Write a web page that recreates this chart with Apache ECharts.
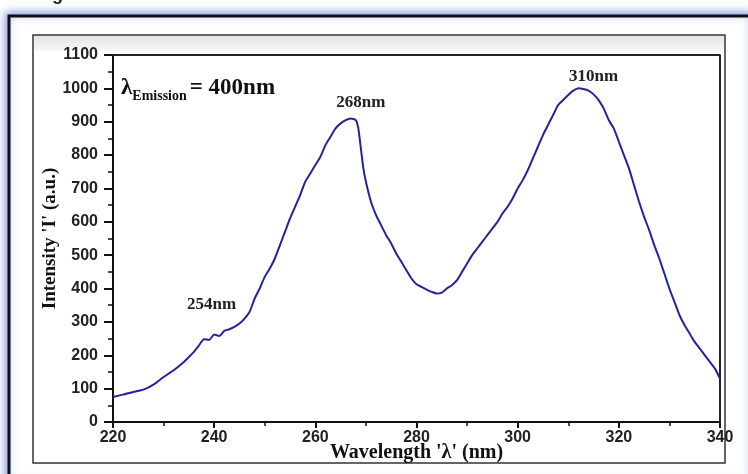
<!DOCTYPE html>
<html>
<head>
<meta charset="utf-8">
<script src="https://cdn.jsdelivr.net/npm/echarts@6/dist/echarts.min.js"></script>
<style>
  html, body { margin: 0; padding: 0; background: #fff; }
  #chart { width: 748px; height: 474px; }
</style>
</head>
<body>
<div id="chart"></div>
<script>
// excitation spectrum
var wavelength = [220, 222, 224, 226, 228, 230, 232, 234, 235, 236, 237, 238, 239, 240, 241, 242, 243, 244, 245, 246,
  247, 248, 249, 250, 251, 252, 253, 254, 255, 256, 257, 258, 259, 260, 261, 262, 263, 264, 265, 266, 267, 268,
  268.5, 269, 269.5, 270, 271, 272, 273, 274, 275, 276, 277, 278, 279, 280, 281, 282, 283, 284, 285, 286, 287,
  288, 289, 290, 291, 292, 293, 294, 295, 296, 297, 298, 299, 300, 301, 302, 303, 304, 305, 306, 307, 308, 309,
  310, 311, 312, 313, 314, 315, 316, 317, 318, 319, 320, 321, 322, 323, 324, 325, 326, 327, 328, 329, 330, 331,
  332, 333, 334, 335, 336, 337, 338, 339, 340];
var intensity = [75, 82, 90, 97, 112, 135, 155, 180, 195, 210, 230, 248, 246, 262, 258, 273, 278, 285, 295, 310,
  330, 370, 400, 435, 460, 490, 530, 570, 610, 645, 680, 720, 745, 770, 795, 830, 855, 880, 895, 905, 910, 905,
  880, 820, 760, 720, 660, 620, 590, 560, 535, 505, 480, 455, 430, 413, 405, 397, 390, 385, 388, 400, 410,
  425, 450, 475, 500, 520, 540, 560, 580, 600, 625, 645, 670, 700, 725, 755, 790, 825, 860, 890, 920, 950, 965,
  980, 993, 1000, 998, 993, 982, 965, 940, 905, 880, 840, 800, 760, 710, 660, 615, 575, 530, 490, 445, 400, 360,
  320, 290, 265, 240, 220, 200, 180, 160, 130];

// peak labels: [wavelength, intensity, text]
var peakX = [239.5, 269, 315];
var peakY = [300, 905, 985];
var peakText = ['254nm', '268nm', '310nm'];

var xTicks = [220, 240, 260, 280, 300, 320, 340];
var yTicks = [0, 100, 200, 300, 400, 500, 600, 700, 800, 900, 1000, 1100];

var lineData = [];
for (var i = 0; i < wavelength.length; i++) {
  lineData.push([wavelength[i], intensity[i]]);
}
var peakData = [];
for (var k = 0; k < peakX.length; k++) {
  peakData.push({ coord: [peakX[k], peakY[k]], value: peakText[k] });
}

var chart = echarts.init(document.getElementById('chart'));

var option = {
  backgroundColor: '#ffffff',
  animation: false,
  graphic: [
    // outer frame with bluish shadow
    { type: 'rect', shape: { x: 9, y: 16, width: 745, height: 468 },
      style: { fill: '#ffffff', stroke: '#111', lineWidth: 3, shadowBlur: 8, shadowColor: 'rgba(60,100,200,0.6)', shadowOffsetX: -2, shadowOffsetY: -2 }, z: -10 },
    // inner panel
    { type: 'rect', shape: { x: 33, y: 35, width: 692, height: 428 },
      style: { fill: '#ffffff', stroke: '#333', lineWidth: 1.5 }, z: -9 },
    { type: 'rect', shape: { x: 34, y: 36, width: 690, height: 15 },
      style: { fill: new echarts.graphic.LinearGradient(0, 0, 0, 1, [
        { offset: 0, color: '#e4e4e4' }, { offset: 1, color: '#f7f7f7' }]) }, z: -8 },
    // figure caption, clipped at top
    { type: 'text', left: 36, top: -14,
      style: { text: 'Fig. 3', font: 'bold 18px "Liberation Sans"', fill: '#222' } },
    // emission wavelength note
    { type: 'text', left: 121, top: 77,
      style: {
        text: '{l|λ}{s|Emission}{l|= 400nm}',
        rich: {
          l: { font: 'bold 23px "Liberation Serif"', fill: '#111' },
          s: { font: 'bold 14px "Liberation Serif"', fill: '#111', padding: [15, 3, 0, 0] }
        }
      } }
  ],
  grid: { left: 113, right: 28, top: 55, bottom: 52 },
  xAxis: {
    type: 'value', min: 220, max: 340, interval: 20,
    name: "Wavelength 'λ' (nm)", nameLocation: 'middle', nameGap: 21, nameMoveOverlap: false,
    nameTextStyle: { fontFamily: 'Liberation Serif', fontWeight: 'bold', fontSize: 20, color: '#111' },
    axisLine: { lineStyle: { color: '#111', width: 2 } },
    axisTick: { inside: false, length: 6, lineStyle: { color: '#111', width: 2 } },
    minorTick: { show: true, splitNumber: 2, length: 4, lineStyle: { color: '#111', width: 1.5 } },
    axisLabel: { margin: 8, fontFamily: 'Liberation Sans', fontWeight: 'bold', fontSize: 16, color: '#222',
      formatter: function (v) { return xTicks.indexOf(v) >= 0 ? String(v) : ''; } },
    splitLine: { show: false }
  },
  yAxis: {
    type: 'value', min: 0, max: 1100, interval: 100,
    name: "Intensity 'I' (a.u.)", nameLocation: 'middle', nameGap: 53, nameMoveOverlap: false,
    nameTextStyle: { fontFamily: 'Liberation Serif', fontWeight: 'bold', fontSize: 19, color: '#111' },
    axisLine: { lineStyle: { color: '#111', width: 2 } },
    axisTick: { inside: false, length: 9, lineStyle: { color: '#111', width: 2 } },
    minorTick: { show: true, splitNumber: 2, length: 5, lineStyle: { color: '#111', width: 1.5 } },
    axisLabel: { margin: 15, fontFamily: 'Liberation Sans', fontWeight: 'bold', fontSize: 16, color: '#222',
      formatter: function (v) { return yTicks.indexOf(v) >= 0 ? String(v) : ''; } },
    splitLine: { show: false }
  },
  series: [
    {
      // plot box: top and right border
      type: 'line', silent: true, symbol: 'none',
      data: [[220, 1100], [340, 1100], [340, 0]],
      lineStyle: { color: '#222', width: 2 }, z: 1
    },
    {
      type: 'line', symbol: 'none', smooth: 0.2,
      data: lineData,
      lineStyle: { color: '#24249a', width: 2 },
      markPoint: {
        symbol: 'rect', symbolSize: 1, itemStyle: { color: 'transparent' },
        label: { show: true, position: 'top', distance: 8, formatter: '{c}',
          fontFamily: 'Liberation Serif', fontWeight: 'bold', fontSize: 17, color: '#222' },
        data: peakData
      },
      z: 3
    }
  ]
};

chart.setOption(option);
</script>
</body>
</html>
